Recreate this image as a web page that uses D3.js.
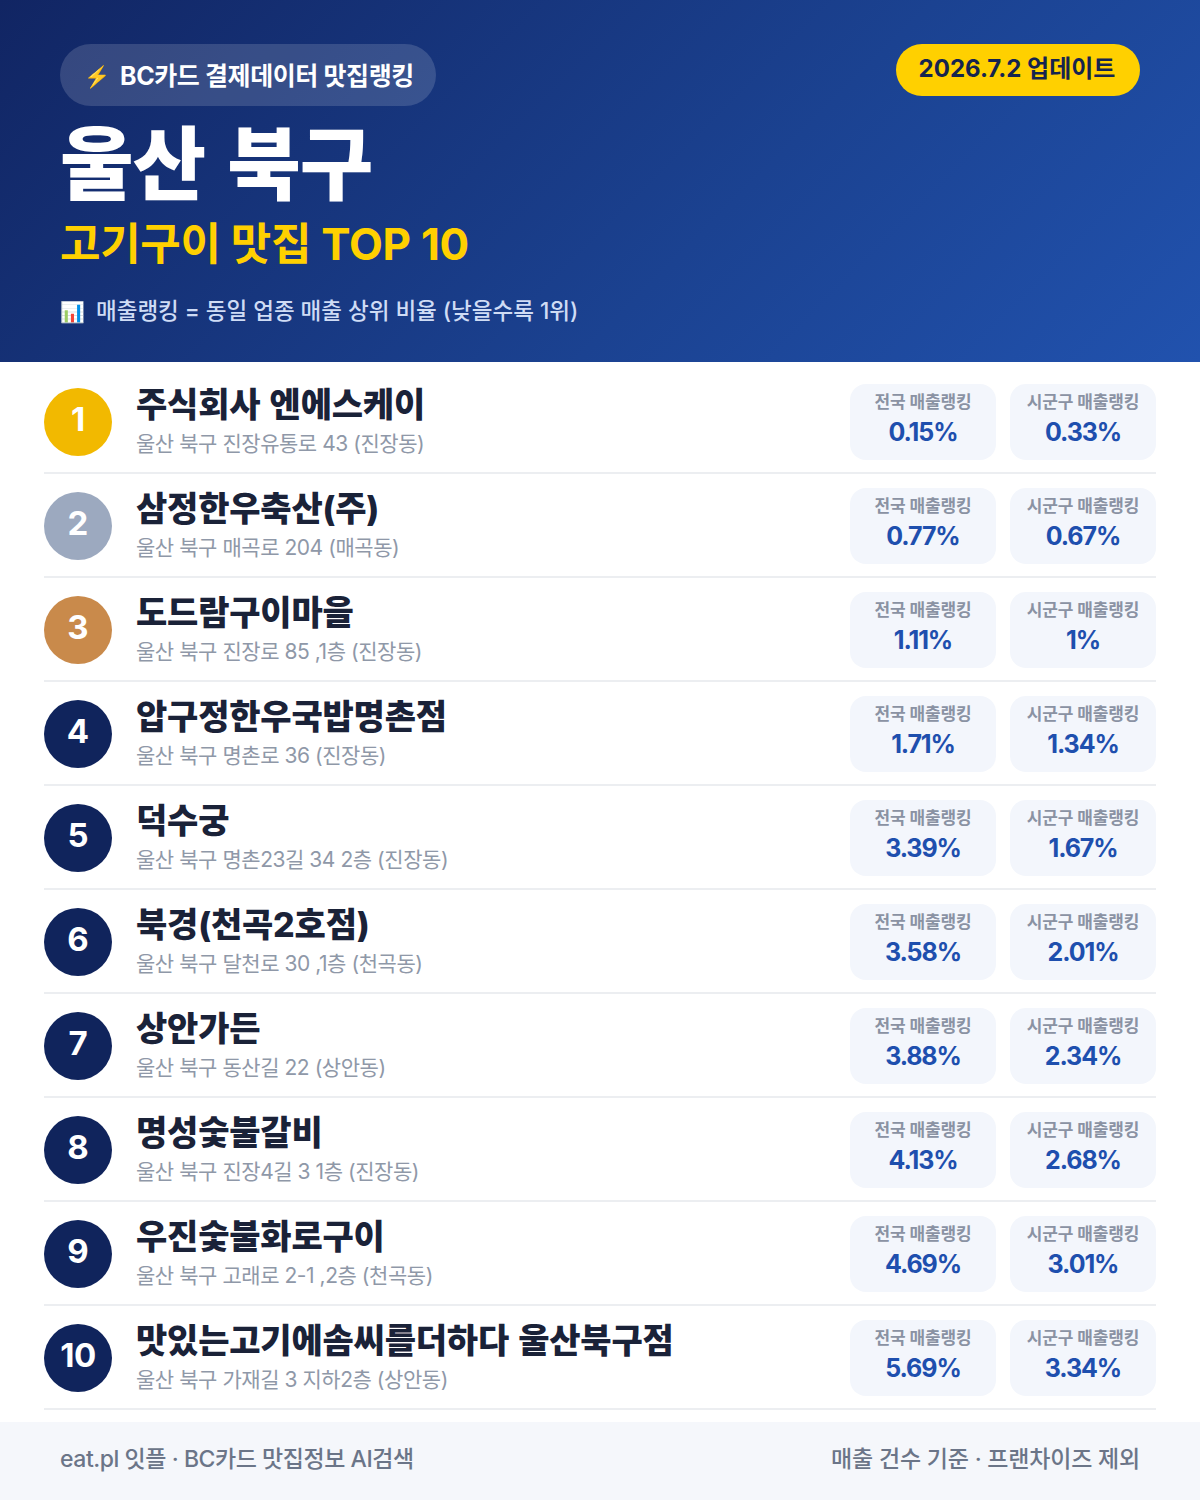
<!DOCTYPE html>
<html>
<head>
<meta charset="utf-8">
<script src="https://cdn.jsdelivr.net/npm/d3@7"></script>
<style>
html, body { margin: 0; padding: 0; background: #fff; }
svg { display: block; }
text { font-family: Inter, "Noto Sans CJK KR", sans-serif; }
</style>
</head>
<body>
<div id="chart"></div>
<script>
var ranks = [1, 2, 3, 4, 5, 6, 7, 8, 9, 10];
var names = ["주식회사 엔에스케이", "삼정한우축산(주)", "도드람구이마을", "압구정한우국밥명촌점", "덕수궁",
  "북경(천곡2호점)", "상안가든", "명성숯불갈비", "우진숯불화로구이", "맛있는고기에솜씨를더하다 울산북구점"];
var addresses = ["울산 북구 진장유통로 43 (진장동)", "울산 북구 매곡로 204 (매곡동)", "울산 북구 진장로 85 ,1층 (진장동)",
  "울산 북구 명촌로 36 (진장동)", "울산 북구 명촌23길 34 2층 (진장동)", "울산 북구 달천로 30 ,1층 (천곡동)",
  "울산 북구 동산길 22 (상안동)", "울산 북구 진장4길 3 1층 (진장동)", "울산 북구 고래로 2-1 ,2층 (천곡동)",
  "울산 북구 가재길 3 지하2층 (상안동)"];
var national = ["0.15%", "0.77%", "1.11%", "1.71%", "3.39%", "3.58%", "3.88%", "4.13%", "4.69%", "5.69%"];
var district = ["0.33%", "0.67%", "1%", "1.34%", "1.67%", "2.01%", "2.34%", "2.68%", "3.01%", "3.34%"];
var rankColors = ["#f2b900", "#9ca9bf", "#c98a4b"];
var defaultRankColor = "#10245c";

var width = 1200;
var height = 1500;

var svg = d3.select("#chart").append("svg")
  .attr("width", width)
  .attr("height", height);

// header, same angle as a css 135deg gradient
var half = (width + 362) / 4;
var grad = svg.append("defs").append("linearGradient")
  .attr("id", "head")
  .attr("gradientUnits", "userSpaceOnUse")
  .attr("x1", 600 - half).attr("y1", 181 - half)
  .attr("x2", 600 + half).attr("y2", 181 + half);
grad.append("stop").attr("offset", "0%").attr("stop-color", "#112563");
grad.append("stop").attr("offset", "60%").attr("stop-color", "#1b4291");
grad.append("stop").attr("offset", "100%").attr("stop-color", "#2152ae");

svg.append("rect").attr("width", width).attr("height", 362).attr("fill", "url(#head)");

svg.append("rect").attr("x", 60).attr("y", 44).attr("width", 376).attr("height", 62).attr("rx", 31)
  .attr("fill", "#fff").attr("fill-opacity", 0.15);
svg.append("text").attr("x", 84).attr("y", 84).attr("font-size", 21).attr("fill", "#ffc83d").text("⚡");
svg.append("text").attr("x", 120).attr("y", 85).attr("font-size", 25).attr("font-weight", 700)
  .attr("letter-spacing", -0.4).attr("fill", "#fff").text("BC카드 결제데이터 맛집랭킹");

svg.append("rect").attr("x", 896).attr("y", 44).attr("width", 244).attr("height", 52).attr("rx", 26).attr("fill", "#ffd000");
svg.append("text").attr("x", 1017).attr("y", 77).attr("text-anchor", "middle").attr("font-size", 24).attr("font-weight", 700)
  .attr("fill", "#15244f").text("2026.7.2 업데이트");

svg.append("text").attr("x", 60).attr("y", 193).attr("font-size", 80).attr("font-weight", 900)
  .attr("letter-spacing", -1).attr("word-spacing", 7).attr("fill", "#fff").text("울산 북구");
svg.append("text").attr("x", 60).attr("y", 260).attr("font-size", 44).attr("font-weight", 700)
  .attr("letter-spacing", -0.3).attr("fill", "#ffd000").text("고기구이 맛집 TOP 10");
svg.append("text").attr("x", 60).attr("y", 319).attr("font-size", 20).attr("fill", "#fff").text("📊");
svg.append("text").attr("x", 96).attr("y", 319).attr("font-size", 22.5).attr("font-weight", 500)
  .attr("fill", "#cfdcf5").text("매출랭킹 = 동일 업종 매출 상위 비율 (낮을수록 1위)");

// rows
var y = d3.scaleBand().domain(ranks).range([370, 1410]);

var row = svg.selectAll("g.row").data(ranks).enter().append("g")
  .attr("class", "row")
  .attr("transform", function (d) { return "translate(0," + y(d) + ")"; });

row.append("rect").attr("x", 44).attr("y", 102).attr("width", 1112).attr("height", 2).attr("fill", "#eceef1");

row.append("circle").attr("cx", 78).attr("cy", 52).attr("r", 34)
  .attr("fill", function (d, i) { return rankColors[i] || defaultRankColor; });
row.append("text").attr("x", 78).attr("y", 60.5).attr("text-anchor", "middle")
  .attr("font-size", 33)
  .attr("font-weight", 700).attr("letter-spacing", function (d) { return d == 10 ? -0.5 : 0; })
  .attr("fill", "#fff").text(function (d) { return d; });

row.append("text").attr("x", 136).attr("y", 47).attr("font-size", 34).attr("font-weight", 800)
  .attr("letter-spacing", -0.2).attr("word-spacing", 2).attr("fill", "#1a2238").text(function (d, i) { return names[i]; });
row.append("text").attr("x", 136).attr("y", 81).attr("font-size", 21).attr("letter-spacing", -0.45)
  .attr("fill", "#8f98a8").text(function (d, i) { return addresses[i]; });

function card(x, label, values, cx) {
  row.append("rect").attr("x", x).attr("y", 14).attr("width", 146).attr("height", 76).attr("rx", 16).attr("fill", "#f3f6fc");
  row.append("text").attr("x", cx).attr("y", 37.5).attr("text-anchor", "middle").attr("font-size", 17).attr("font-weight", 700)
    .attr("letter-spacing", -0.1).attr("fill", "#8a92a3").text(label);
  row.append("text").attr("x", cx).attr("y", 71).attr("text-anchor", "middle").attr("font-size", 25).attr("font-weight", 700)
    .attr("letter-spacing", -1.1).attr("fill", "#1e4fae").text(function (d, i) { return values[i]; });
}
card(850, "전국 매출랭킹", national, 923);
card(1010, "시군구 매출랭킹", district, 1083);

// footer
svg.append("rect").attr("y", 1422).attr("width", width).attr("height", 78).attr("fill", "#f5f7fb");
svg.append("text").attr("x", 60).attr("y", 1467).attr("font-size", 23).attr("font-weight", 500)
  .attr("letter-spacing", -0.45).attr("fill", "#6b7588").text("eat.pl 잇플 · BC카드 맛집정보 AI검색");
svg.append("text").attr("x", 1140).attr("y", 1467).attr("text-anchor", "end").attr("font-size", 23).attr("font-weight", 500)
  .attr("letter-spacing", -0.2).attr("fill", "#6b7588").text("매출 건수 기준 · 프랜차이즈 제외");
</script>
</body>
</html>
